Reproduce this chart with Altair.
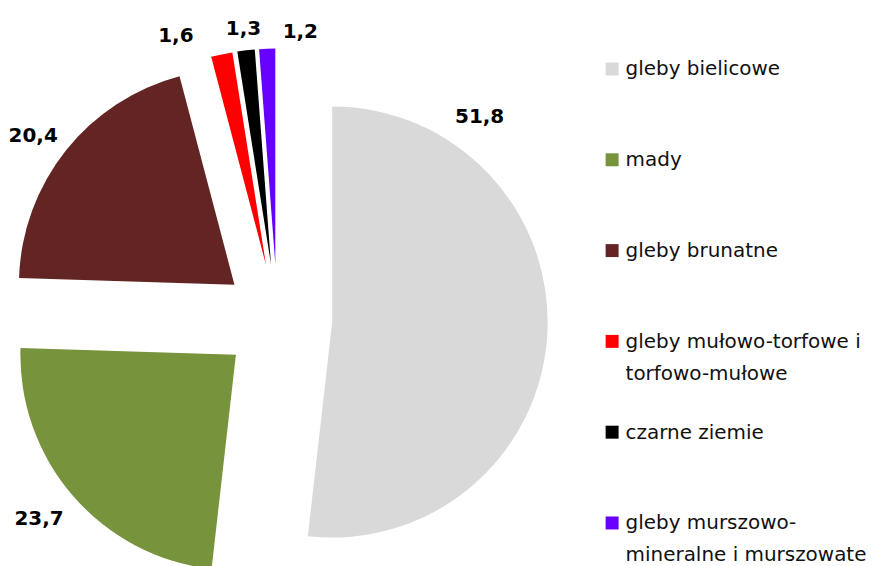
import altair as alt
import pandas as pd

# ---- data ----
categories = [
    "gleby bielicowe",
    "mady",
    "gleby brunatne",
    "gleby mułowo-torfowe i\ntorfowo-mułowe",
    "czarne ziemie",
    "gleby murszowo-\nmineralne i murszowate",
]
values = [51.8, 23.7, 20.4, 1.6, 1.3, 1.2]
value_labels = ["51,8", "23,7", "20,4", "1,6", "1,3", "1,2"]
colors = ["#D9D9D9", "#77933C", "#632523", "#FF0000", "#000000", "#6600FF"]

# ---- style (label placement relative to each exploded slice) ----
label_angle_shift = [-57.5, 1.0, -2.0, -9.6, 0.0, 8.3]  # degrees
label_dist = [253, 257, 251, 247, 238, 234]

CX, CY = 268, 311      # pie centre (chart px)
EXPLODE = 55           # explosion distance
R = 216                # pie radius
LEG_X, LEG_Y0, LEG_STEP = 603.5, 60.5, 91

df = pd.DataFrame({
    "cat": categories,
    "val": values,
    "lab": value_labels,
    "col": colors,
    "order": list(range(len(values))),
    "shift": label_angle_shift,
    "ldist": label_dist,
})

base = (
    alt.Chart(df)
    .transform_window(cum="sum(val)", sort=[alt.SortField("order")], frame=[None, 0])
    .transform_joinaggregate(total="sum(val)")
    .transform_calculate(a0="2*PI*(datum.cum - datum.val)/datum.total")
    .transform_calculate(a1="2*PI*datum.cum/datum.total")
    .transform_calculate(mid="(datum.a0 + datum.a1)/2")
    .transform_calculate(px=f"{CX} + {EXPLODE}*sin(datum.mid)")
    .transform_calculate(py=f"{CY} - {EXPLODE}*cos(datum.mid)")
    .transform_calculate(la="datum.mid + datum.shift*PI/180")
    .transform_calculate(lx="datum.px + datum.ldist*sin(datum.la)")
    .transform_calculate(ly="datum.py - datum.ldist*cos(datum.la)")
    .transform_calculate(legy=f"{LEG_Y0} + {LEG_STEP}*datum.order")
)

arcs = base.mark_arc(outerRadius=R).encode(
    x=alt.X("px:Q", scale=None, axis=None),
    y=alt.Y("py:Q", scale=None, axis=None),
    theta=alt.Theta("a0:Q", scale=None, stack=None),
    theta2="a1:Q",
    color=alt.Color("col:N", scale=None, legend=None),
)

labels = base.mark_text(
    font="DejaVu Sans", fontSize=20, fontWeight="bold", color="#000000",
    align="center", baseline="middle",
).encode(
    x=alt.X("lx:Q", scale=None, axis=None),
    y=alt.Y("ly:Q", scale=None, axis=None),
    text="lab:N",
)

leg_sq = base.mark_square(size=169, filled=True, opacity=1).encode(
    x=alt.value(LEG_X),
    y=alt.Y("legy:Q", scale=None, axis=None),
    color=alt.Color("col:N", scale=None, legend=None),
)

leg_txt = base.mark_text(
    font="DejaVu Sans", fontSize=20, color="#111111", align="left",
    baseline="alphabetic", lineBreak="\n", lineHeight=32, dy=6.5,
).encode(
    x=alt.value(LEG_X + 13.5),
    y=alt.Y("legy:Q", scale=None, axis=None),
    text="cat:N",
)

chart = (
    alt.layer(arcs, labels, leg_sq, leg_txt)
    .properties(width=872, height=550, padding=0)
    .configure_view(stroke=None)
)

chart.save("out.html", embed_options={"renderer": "svg", "actions": False})
